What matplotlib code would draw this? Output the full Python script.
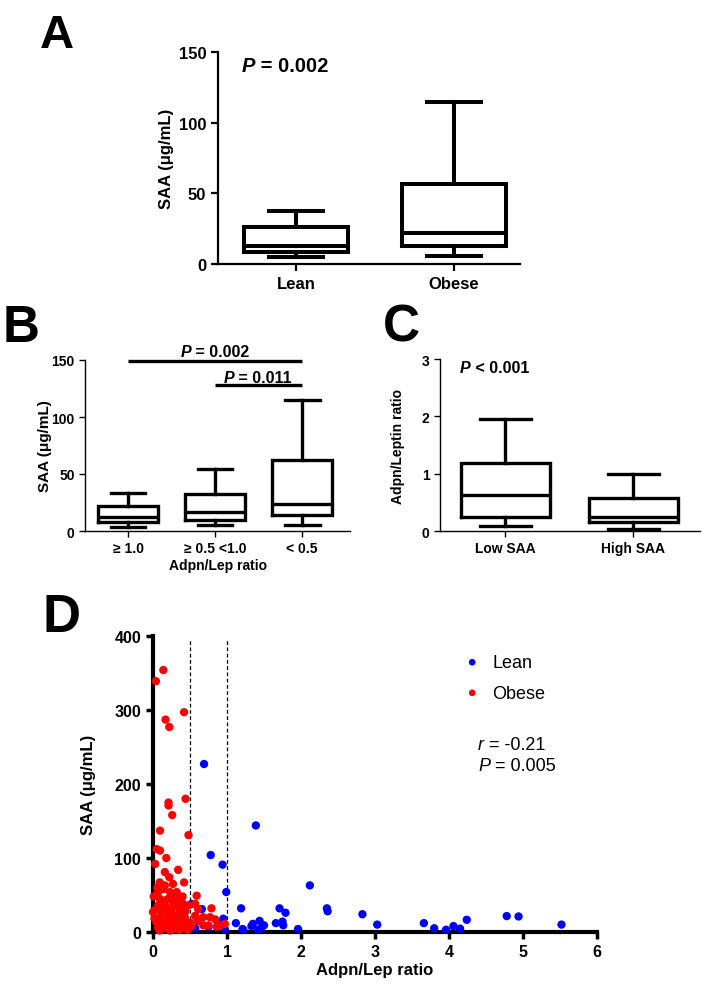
import matplotlib
matplotlib.use("Agg")
import matplotlib.pyplot as plt

# ---- panel A: SAA, lean vs obese (box stats)
a_groups = ["Lean", "Obese"]
a_low = [5, 6]
a_q1 = [8.5, 12.5]
a_med = [13, 22]
a_q3 = [26, 56.5]
a_high = [37.5, 114.5]

# ---- panel B: SAA by adiponectin/leptin ratio class
b_groups = ["\u2265 1.0", "\u2265 0.5 <1.0", "< 0.5"]
b_low = [3.5, 5, 5.5]
b_q1 = [8, 10, 14.3]
b_med = [12.6, 16.7, 24]
b_q3 = [22, 32.7, 62]
b_high = [33.6, 54.7, 115]

# ---- panel C: Adpn/Leptin ratio, low vs high SAA
c_groups = ["Low SAA", "High SAA"]
c_low = [0.08, 0.03]
c_q1 = [0.25, 0.15]
c_med = [0.62, 0.24]
c_q3 = [1.19, 0.57]
c_high = [1.95, 0.99]

# ---- panel D: scatter of SAA vs Adpn/Lep ratio
lean_x = [0.69, 1.39, 0.78, 0.94, 0.99, 2.12, 1.19, 1.71, 1.79, 2.35, 2.36,
          2.83, 3.03, 3.66, 3.80, 3.96, 4.06, 4.15, 4.24, 4.78, 4.94, 5.52,
          1.96, 1.22, 1.35, 1.44, 1.42, 1.50, 1.66, 1.75, 1.76, 1.12, 1.21,
          0.52, 0.66, 0.57, 0.95, 0.97, 0.75, 0.61, 1.46, 1.33, 0.88]
lean_y = [227, 144, 104, 91, 54, 63, 32, 32, 26, 32, 28,
          24, 10, 12, 5, 3, 8, 4.5, 16.5, 21.5, 21, 10,
          4, 3, 11, 15, 3, 9, 12, 14, 9, 12, 4,
          38, 31, 5, 18, 4, 7, 15, 5, 8, 12]

obese_x = [0.04, 0.14, 0.17, 0.22, 0.42, 0.21, 0.21, 0.26, 0.44, 0.48, 0.095,
           0.05, 0.095, 0.03, 0.18, 0.16, 0.22, 0.34, 0.42, 0.09, 0.27, 0.07,
           0.14, 0.23, 0.32, 0.09, 0.21, 0.27, 0.07, 0.15, 0.34, 0.41, 0.48,
           0.03, 0.14, 0.25, 0.36, 0.59, 0.57, 0.61, 0.79, 0.09, 0.21, 0.32,
           0.43, 0.57, 0.68, 0.77, 0.05, 0.15, 0.27, 0.39, 0.50, 0.61, 0.84,
           0.07, 0.18, 0.30, 0.41, 0.52, 0.91, 0.97, 0.09, 0.23, 0.36, 0.75,
           0.68, 0.86, 0.00, 0.12, 0.18, 0.28, 0.38, 0.44, 0.02, 0.13, 0.24,
           0.34, 0.46, 0.19, 0.29, 0.11, 0.06, 0.16, 0.37, 0.01, 0.26, 0.31,
           0.47, 0.12, 0.40, 0.20]
obese_y = [339, 354, 287, 277, 297, 175, 171, 158, 180, 131, 137,
           112, 110, 92, 100, 81, 74, 84, 67, 67, 65, 54,
           58, 54, 54, 45, 45, 40, 36, 38, 36, 38, 36,
           30, 30, 27, 30, 49, 38, 31, 32, 20, 20, 22,
           20, 22, 20, 20, 13, 13, 13, 13, 13, 15, 17,
           6, 6, 6, 6, 8, 9, 11, 2, 2, 3, 9,
           9, 7, 27, 25, 33, 18, 24, 28, 18, 8, 10,
           16, 10, 44, 48, 40, 60, 63, 44, 48, 33, 4,
           3, 15, 48, 25]

W, H = 713, 987
FONT = ["Liberation Sans", "DejaVu Sans"]
plt.rcParams["font.family"] = FONT
plt.rcParams["font.weight"] = "bold"
plt.rcParams["axes.labelweight"] = "bold"

fig = plt.figure(figsize=(W / 100, H / 100), dpi=100)
renderer = fig.canvas.get_renderer()


def axes_px(left, top, right, bottom):
    return fig.add_axes([left / W, 1 - bottom / H, (right - left) / W, (bottom - top) / H])


def text_px(x, y, s, **kw):
    return fig.text(x / W, 1 - y / H, s, **kw)


def p_text(x, y, lead, rest, size, weight="bold", center=False):
    # italic statistic symbol followed by upright text, y is the baseline
    kw = dict(size=size, weight=weight, va="baseline")
    a = fig.text(0, 0, lead, style="italic", **kw)
    b = fig.text(0, 0, rest, **kw)
    wa = a.get_window_extent(renderer).width
    wb = b.get_window_extent(renderer).width
    x0 = x - (wa + wb) / 2 if center else x
    a.set_position((x0 / W, 1 - y / H))
    b.set_position(((x0 + wa) / W, 1 - y / H))


def draw_boxes(ax, labels, low, q1, med, q3, high, lw, width, capw):
    stats = [dict(whislo=l, q1=a, med=m, q3=b, whishi=h)
             for l, a, m, b, h in zip(low, q1, med, q3, high)]
    props = dict(color="k", linewidth=lw, solid_joinstyle="miter")
    pos = list(range(1, len(stats) + 1))
    ax.bxp(stats, positions=pos, widths=width, capwidths=capw, showfliers=False,
           boxprops=props, whiskerprops=props, capprops=props, medianprops=props)
    ax.set_xticks(pos, labels)
    for s in ("top", "right"):
        ax.spines[s].set_visible(False)


# ---------------- A
axA = axes_px(218, 53, 520, 265)
draw_boxes(axA, a_groups, a_low, a_q1, a_med, a_q3, a_high, 2.9, 0.66, 0.34)
axA.set_xlim(0.506, 2.418)
axA.set_ylim(0, 150)
axA.set_yticks([0, 50, 100, 150])
for s in ("left", "bottom"):
    axA.spines[s].set_linewidth(1.6)
axA.tick_params(width=1.6, length=5, labelsize=12)
axA.set_ylabel("SAA (\u03bcg/mL)", fontsize=12, va="center")
axA.yaxis.set_label_coords((166 - 218) / 302, 0.5)
p_text(242, 72, "P", " = 0.002", 14.5)
text_px(40, 48, "A", size=34, weight="bold")

# ---------------- B
axB = axes_px(85, 361, 350, 532)
draw_boxes(axB, b_groups, b_low, b_q1, b_med, b_q3, b_high, 2.4, 0.69, 0.4)
axB.set_xlim(0.506, 3.55)
axB.set_ylim(0, 150)
axB.set_yticks([0, 50, 100, 150])
for s in ("left", "bottom"):
    axB.spines[s].set_linewidth(1.0)
axB.tick_params(width=1.0, length=4, labelsize=10)
axB.set_ylabel("SAA (\u03bcg/mL)", fontsize=11, va="center")
axB.yaxis.set_label_coords((45 - 85) / 265, 0.5)
axB.set_xlabel("Adpn/Lep ratio", fontsize=10, labelpad=2)
axB.plot([1, 3], [149, 149], color="k", lw=2.4, clip_on=False, solid_capstyle="butt")
axB.plot([2, 3], [128, 128], color="k", lw=2.4, clip_on=False, solid_capstyle="butt")
p_text(215, 357, "P", " = 0.002", 11.5, center=True)
p_text(258, 383, "P", " = 0.011", 11.5, center=True)
text_px(3, 342, "B", size=37, weight="bold")

# ---------------- C
axC = axes_px(440, 360, 700, 532)
draw_boxes(axC, c_groups, c_low, c_q1, c_med, c_q3, c_high, 2.4, 0.69, 0.4)
axC.set_xlim(0.49, 2.52)
axC.set_ylim(0, 3)
axC.set_yticks([0, 1, 2, 3])
for s in ("left", "bottom"):
    axC.spines[s].set_linewidth(1.0)
axC.tick_params(width=1.0, length=4, labelsize=10)
axC.set_ylabel("Adpn/Leptin ratio", fontsize=10, va="center")
axC.yaxis.set_label_coords((398 - 440) / 260, 0.5)
p_text(460, 373, "P", " < 0.001", 11.5)
text_px(383, 342, "C", size=37, weight="bold")

# ---------------- D
axD = axes_px(153, 637, 597, 933)
axD.scatter(lean_x, lean_y, s=36, c="#0000ff", edgecolors="none", label="Lean",
            clip_on=False, zorder=3)
axD.scatter(obese_x, obese_y, s=36, c="#ff0000", edgecolors="none", label="Obese",
            clip_on=False, zorder=4)
axD.vlines([0.5, 1.0], 0, 396, colors="k", linestyles=(0, (3, 2)), lw=0.9, zorder=2)
axD.set_xlim(0, 6)
axD.set_ylim(0, 400)
axD.set_xticks(range(0, 7))
axD.set_yticks(range(0, 401, 100))
for s in ("top", "right"):
    axD.spines[s].set_visible(False)
for s in ("left", "bottom"):
    axD.spines[s].set_linewidth(3)
axD.tick_params(width=2.5, length=5, labelsize=11.5)
axD.set_xlabel("Adpn/Lep ratio", fontsize=12, labelpad=2)
axD.set_ylabel("SAA (\u03bcg/mL)", fontsize=12, va="center")
axD.yaxis.set_label_coords((88 - 153) / 444, 0.5)
leg = axD.legend(loc="upper left", bbox_to_anchor=(465 / W, 1 - 655 / H),
                 bbox_transform=fig.transFigure, frameon=False, fontsize=13,
                 handlelength=0.8, handletextpad=0.7, labelspacing=0.75,
                 borderpad=0, borderaxespad=0, markerscale=0.8)
for t in leg.get_texts():
    t.set_fontweight("normal")
p_text(478, 750, "r", " = -0.21", 13, weight="normal")
p_text(478, 771, "P", " = 0.005", 13, weight="normal")
text_px(43, 632, "D", size=38, weight="bold")

fig.savefig("out.png", dpi=100)
